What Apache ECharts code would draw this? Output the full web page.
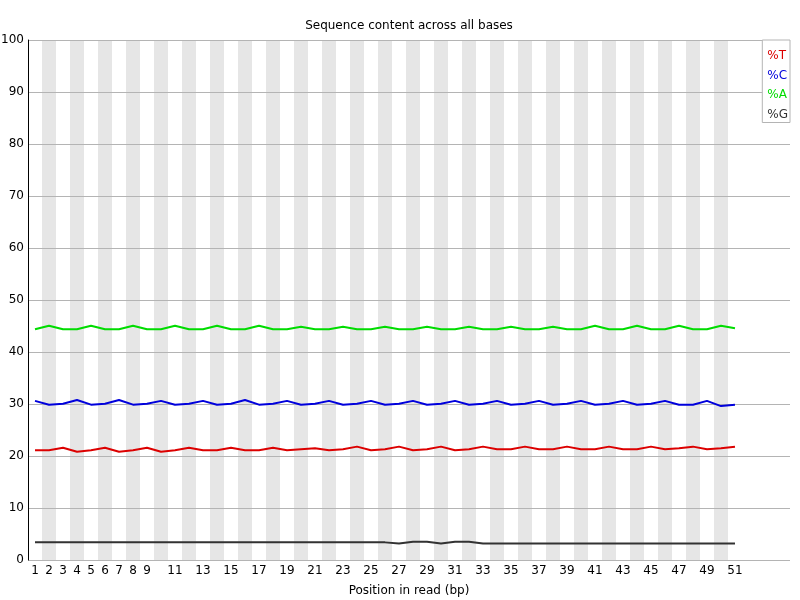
<!DOCTYPE html>
<html>
<head>
<meta charset="utf-8">
<title>Sequence content across all bases</title>
<script src="https://cdn.jsdelivr.net/npm/echarts@6/dist/echarts.min.js"></script>
<style>
  html, body { margin: 0; padding: 0; background: #fff; }
  #chart { width: 800px; height: 600px; }
</style>
</head>
<body>
<div id="chart"></div>
<script>
// positions in read (bp)
const positions = [1, 2, 3, 4, 5, 6, 7, 8, 9, 10, 11, 12, 13, 14, 15, 16, 17, 18, 19, 20,
  21, 22, 23, 24, 25, 26, 27, 28, 29, 30, 31, 32, 33, 34, 35, 36, 37, 38, 39, 40,
  41, 42, 43, 44, 45, 46, 47, 48, 49, 50, 51];

// labels shown under the x axis
const xTickLabels = [1, 2, 3, 4, 5, 6, 7, 8, 9, 11, 13, 15, 17, 19, 21, 23, 25, 27, 29,
  31, 33, 35, 37, 39, 41, 43, 45, 47, 49, 51];

const pctT = [21.09, 21.09, 21.6, 20.83, 21.09, 21.6, 20.83, 21.09, 21.6, 20.83,
  21.09, 21.6, 21.09, 21.09, 21.6, 21.09, 21.09, 21.6, 21.09, 21.28,
  21.47, 21.09, 21.28, 21.8, 21.09, 21.28, 21.8, 21.09, 21.28, 21.8,
  21.09, 21.28, 21.8, 21.28, 21.28, 21.8, 21.28, 21.28, 21.8, 21.28,
  21.28, 21.8, 21.28, 21.28, 21.8, 21.28, 21.47, 21.8, 21.28, 21.47, 21.8];

const pctC = [30.6, 29.87, 30.06, 30.77, 29.87, 30.06, 30.77, 29.87, 30.06, 30.6,
  29.87, 30.06, 30.6, 29.87, 30.06, 30.77, 29.87, 30.06, 30.6, 29.87,
  30.06, 30.6, 29.87, 30.06, 30.6, 29.87, 30.06, 30.6, 29.87, 30.06,
  30.6, 29.87, 30.06, 30.6, 29.87, 30.06, 30.6, 29.87, 30.06, 30.6,
  29.87, 30.06, 30.6, 29.87, 30.06, 30.6, 29.87, 29.87, 30.6, 29.6, 29.87];

const pctA = [44.36, 45.06, 44.36, 44.36, 45.06, 44.36, 44.36, 45.06, 44.36, 44.36,
  45.06, 44.36, 44.36, 45.06, 44.36, 44.36, 45.06, 44.36, 44.36, 44.87,
  44.36, 44.36, 44.87, 44.36, 44.36, 44.87, 44.36, 44.36, 44.87, 44.36,
  44.36, 44.87, 44.36, 44.36, 44.87, 44.36, 44.36, 44.87, 44.36, 44.36,
  45.06, 44.36, 44.36, 45.06, 44.36, 44.36, 45.06, 44.36, 44.36, 45.06, 44.55];

const pctG = [3.39, 3.39, 3.39, 3.39, 3.39, 3.39, 3.39, 3.39, 3.39, 3.39,
  3.39, 3.39, 3.39, 3.39, 3.39, 3.39, 3.39, 3.39, 3.39, 3.39,
  3.39, 3.39, 3.39, 3.39, 3.39, 3.39, 3.17, 3.53, 3.53, 3.17,
  3.53, 3.53, 3.17, 3.17, 3.17, 3.17, 3.17, 3.17, 3.17, 3.17,
  3.17, 3.17, 3.17, 3.17, 3.17, 3.17, 3.17, 3.17, 3.17, 3.17, 3.17];

const font = 'DejaVu Sans';
const colT = 'rgb(220,0,0)';
const colC = 'rgb(0,0,220)';
const colA = 'rgb(0,220,0)';
const colG = 'rgb(50,50,50)';

function pairs(vals) {
  return positions.map((p, i) => [p, vals[i]]);
}

// grey stripes behind every even position
const stripes = positions.filter(p => p % 2 === 0).map(p => [{ xAxis: p - 0.5 }, { xAxis: p + 0.5 }]);

const chart = echarts.init(document.getElementById('chart'));

function lineSeries(name, color, vals) {
  return {
    name: name,
    type: 'line',
    data: pairs(vals),
    symbol: 'none',
    z: 4,
    lineStyle: { color: color, width: 2 },
    itemStyle: { color: color },
    animation: false
  };
}

const series = [
  lineSeries('%T', colT, pctT),
  lineSeries('%C', colC, pctC),
  lineSeries('%A', colA, pctA),
  lineSeries('%G', colG, pctG)
];
series[0].markArea = {
  silent: true,
  z: 1,
  itemStyle: { color: 'rgb(230,230,230)' },
  data: stripes
};

const option = {
  animation: false,
  backgroundColor: '#fff',
  textStyle: { fontFamily: font },
  title: {
    text: 'Sequence content across all bases',
    left: 409,
    textAlign: 'center',
    top: 20,
    padding: 0,
    textStyle: { fontFamily: font, fontSize: 12, fontWeight: 'normal', color: '#000' }
  },
  legend: {
    orient: 'vertical',
    right: 10,
    top: 40,
    padding: [9, 2, 2, 0],
    itemGap: 6.5,
    itemWidth: 0,
    itemHeight: 14,
    icon: 'none',
    backgroundColor: '#fff',
    borderColor: 'rgb(180,180,180)',
    borderWidth: 1,
    borderRadius: 0,
    selectedMode: false,
    textStyle: { fontFamily: font, fontSize: 12, padding: 0 },
    data: [
      { name: '%T', textStyle: { color: colT } },
      { name: '%C', textStyle: { color: colC } },
      { name: '%A', textStyle: { color: colA } },
      { name: '%G', textStyle: { color: colG } }
    ]
  },
  grid: { left: 28, right: 10, top: 40, bottom: 40, outerBoundsMode: 'none', containLabel: false },
  xAxis: {
    type: 'value',
    min: 0.5,
    max: 54.93,
    name: 'Position in read (bp)',
    nameLocation: 'middle',
    nameGap: 25,
    nameTextStyle: { fontFamily: font, fontSize: 12, color: '#000' },
    axisLine: { show: false },
    axisTick: { show: false },
    splitLine: { show: false },
    axisLabel: {
      customValues: xTickLabels,
      margin: 5,
      fontFamily: font,
      fontSize: 12,
      color: '#000'
    }
  },
  yAxis: {
    type: 'value',
    min: 0,
    max: 100,
    interval: 10,
    z: 2,
    axisLine: { show: true, lineStyle: { color: '#000', width: 1 } },
    axisTick: { show: false },
    splitLine: { show: true, lineStyle: { color: 'rgb(180,180,180)', width: 1 } },
    axisLabel: { margin: 4, fontFamily: font, fontSize: 12, color: '#000' }
  },
  series: series
};

chart.setOption(option);
</script>
</body>
</html>
